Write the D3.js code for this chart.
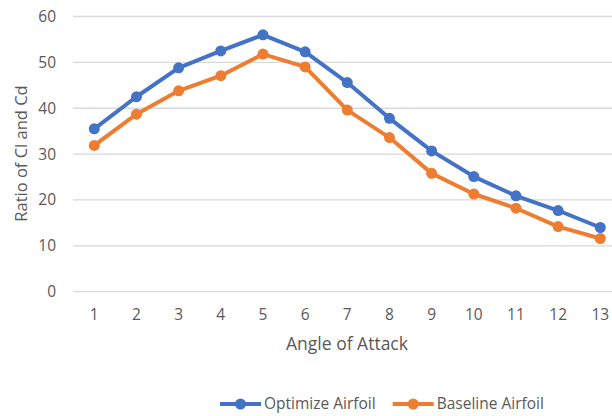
<!DOCTYPE html>
<html><head><meta charset="utf-8">
<script src="https://cdn.jsdelivr.net/npm/d3@7"></script>
<style>body{margin:0;background:#fff}svg{display:block}text{font-family:"Open Sans",sans-serif;fill:#595959}</style>
</head><body><svg id="c" width="612" height="416"></svg>
<script>
const categories = ["1","2","3","4","5","6","7","8","9","10","11","12","13"];
const optimize = [35.5,42.5,48.8,52.5,56.0,52.3,45.6,37.8,30.7,25.1,20.9,17.7,14.0];
const baseline = [31.9,38.7,43.8,47.1,51.8,49.0,39.6,33.6,25.8,21.3,18.2,14.2,11.6];
const yTicks = [0,10,20,30,40,50,60];
const seriesNames = ["Optimize Airfoil","Baseline Airfoil"];
const colors = ["#4472C4","#ED7D31"];

const svg = d3.select("#c");
const x = d3.scaleBand().domain(categories).range([73.2, 621.4]);
const y = d3.scaleLinear().domain([0,60]).range([291.7, 16.5]);

svg.append("g").selectAll("line").data(yTicks).join("line")
  .attr("x1",73.2).attr("x2",612).attr("y1",d=>y(d)).attr("y2",d=>y(d))
  .attr("stroke","#d9d9d9").attr("stroke-width",1.3);

svg.append("g").selectAll("text").data(yTicks).join("text")
  .attr("x",56).attr("y",d=>y(d)).attr("dy","0.35em").attr("text-anchor","end")
  .attr("font-size",15.5).text(d=>d);

svg.append("g").selectAll("text").data(categories).join("text")
  .attr("x",d=>x(d)+x.bandwidth()/2).attr("y",315).attr("dy","0.35em").attr("text-anchor","middle")
  .attr("font-size",15.5).text(d=>d);

svg.append("text").attr("x",347).attr("y",344).attr("dy","0.35em").attr("text-anchor","middle")
  .attr("font-size",17.5).text("Angle of Attack");
svg.append("text").attr("transform","translate(21,153.5) rotate(-90)").attr("dy","0.35em")
  .attr("text-anchor","middle").attr("font-size",16.5).text("Ratio of Cl and Cd");

const line = d3.line().x((d,i)=>x(categories[i])+x.bandwidth()/2).y(d=>y(d));
[optimize, baseline].forEach((s,k)=>{
  const g = svg.append("g");
  g.append("path").attr("d",line(s)).attr("fill","none").attr("stroke",colors[k])
    .attr("stroke-width",4).attr("stroke-linejoin","round").attr("stroke-linecap","round");
  g.selectAll("circle").data(s).join("circle")
    .attr("cx",(d,i)=>x(categories[i])+x.bandwidth()/2).attr("cy",d=>y(d)).attr("r",5.5)
    .attr("fill",colors[k]);
});

const legX = [220, 392.7];
seriesNames.forEach((n,k)=>{
  const g = svg.append("g");
  g.append("line").attr("x1",legX[k]).attr("x2",legX[k]+41).attr("y1",404).attr("y2",404)
    .attr("stroke",colors[k]).attr("stroke-width",4);
  g.append("circle").attr("cx",legX[k]+20.5).attr("cy",404).attr("r",5.5).attr("fill",colors[k]);
  g.append("text").attr("x",legX[k]+44).attr("y",404).attr("dy","0.35em").attr("font-size",15.5).text(n);
});
</script></body></html>
